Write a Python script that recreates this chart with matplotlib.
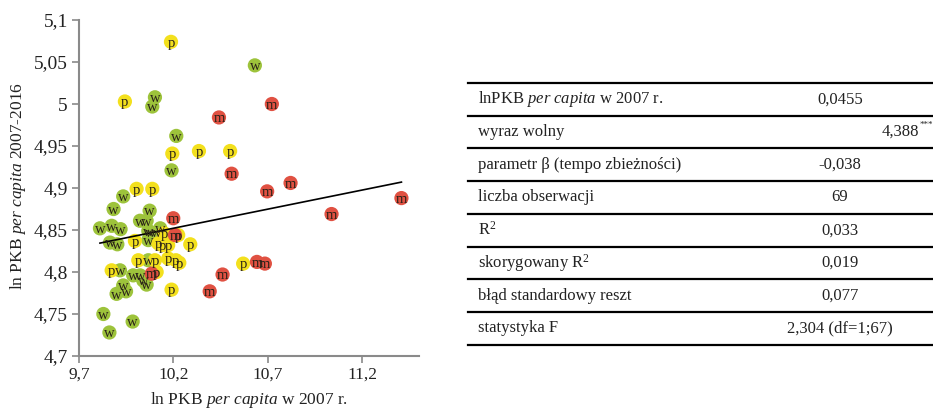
import matplotlib.pyplot as plt
import numpy as np

plt.rcParams['font.family'] = 'Liberation Serif'
plt.rcParams['mathtext.fontset'] = 'custom'
plt.rcParams['mathtext.rm'] = 'Liberation Serif'
plt.rcParams['mathtext.it'] = 'Liberation Serif:italic'

# ln GDP per capita 2007 (x) and growth 2007-2016 (y), by group
w_x = [10.102, 10.088, 10.631, 10.215, 10.190, 9.934, 9.883, 10.074, 10.023, 10.058,
       9.811, 9.873, 9.920, 10.067, 10.130, 10.076, 10.107, 9.864, 9.903, 10.067,
       9.917, 10.067, 9.987, 10.023, 10.040, 10.058, 9.934, 9.899, 9.949, 9.829,
       9.984, 9.861]
w_y = [5.008, 4.997, 5.046, 4.962, 4.921, 4.890, 4.875, 4.873, 4.861, 4.861,
       4.852, 4.855, 4.851, 4.849, 4.852, 4.847, 4.847, 4.835, 4.833, 4.838,
       4.802, 4.814, 4.796, 4.796, 4.790, 4.785, 4.784, 4.774, 4.777, 4.750,
       4.741, 4.728]

p_x = [10.187, 9.943, 10.194, 10.335, 10.500, 10.005, 10.088, 10.150, 10.225, 9.996,
       10.120, 10.142, 10.172, 10.289, 9.873, 10.014, 10.102, 10.172, 10.213, 10.231,
       10.111, 10.190, 10.569]
p_y = [5.074, 5.003, 4.941, 4.944, 4.944, 4.899, 4.899, 4.846, 4.844, 4.837,
       4.834, 4.832, 4.832, 4.833, 4.802, 4.814, 4.814, 4.816, 4.814, 4.811,
       4.800, 4.779, 4.810]

m_x = [10.441, 10.721, 10.508, 10.696, 10.820, 11.407, 11.037, 10.199, 10.208, 10.642,
       10.684, 10.460, 10.392, 10.085]
m_y = [4.984, 5.000, 4.917, 4.896, 4.906, 4.888, 4.869, 4.864, 4.844, 4.812,
       4.810, 4.797, 4.777, 4.798]

intercept = 4.388
slope = 0.0455

x_ticks = [9.7, 10.2, 10.7, 11.2]
y_ticks = [4.7, 4.75, 4.8, 4.85, 4.9, 4.95, 5.0, 5.05, 5.1]

table_labels = ["lnPKB $\\it{per\\ capita}$ w 2007 r.", "wyraz wolny",
                "parametr β (tempo zbieżności)", "liczba obserwacji", "R$^2$",
                "skorygowany R$^2$", "błąd standardowy reszt", "statystyka F"]
table_values = ["0,0455", "4,388", "-0,038", "69", "0,033", "0,019",
                "0,077", "2,304 (df=1;67)"]
signif = "***"

W, H = 933, 409
fig = plt.figure(figsize=(W / 100, H / 100), dpi=100)
ax = fig.add_axes([79 / W, 1 - 356 / H, 340 / W, 336 / H])

groups = [(w_x, w_y, '#9dc33b', 'w'), (p_x, p_y, '#f3e01d', 'p'), (m_x, m_y, '#e05142', 'm')]
for gx, gy, col, lab in groups:
    ax.scatter(gx, gy, s=105, color=col, edgecolors='none', zorder=3)
for gx, gy, col, lab in groups:
    for xx, yy in zip(gx, gy):
        ax.text(xx, yy - 0.0015, lab, ha='center', va='center', fontsize=10.5,
                color='#2a2218', zorder=5)

all_x = np.array(w_x + p_x + m_x)
lx = np.array([all_x.min(), all_x.max()])
ax.plot(lx, intercept + slope * lx, color='black', lw=1.2, zorder=4)

ax.set_xlim(9.7, 11.5)
ax.set_ylim(4.7, 5.1)
ax.set_xticks(x_ticks)
ax.set_xticklabels([f"{v:g}".replace('.', ',') for v in x_ticks])
ax.set_yticks(y_ticks)
ax.set_yticklabels([f"{v:g}".replace('.', ',') for v in y_ticks])
for s in ['top', 'right']:
    ax.spines[s].set_visible(False)
for s in ['left', 'bottom']:
    ax.spines[s].set_color('#8a8a8a')
    ax.spines[s].set_linewidth(1.5)
ax.tick_params(colors='#8a8a8a', labelcolor='#222222', length=5, width=1.2,
               direction='out', pad=3)
ax.tick_params(axis='x', labelsize=12.5)
ax.tick_params(axis='y', labelsize=14)
ax.patch.set_alpha(0)

fig.text(249 / W, 1 - 400 / H, "ln PKB $\\it{per\\ capita}$ w 2007 r.",
         ha='center', va='center', fontsize=12.5, color='#222222')
fig.text(18 / W, 1 - 186 / H, "ln PKB $\\it{per\\ capita}$ 2007-2016",
         ha='center', va='center', rotation=90, fontsize=12.5, color='#222222')

# regression table
tab = fig.add_axes([0, 0, 1, 1], zorder=-1)
tab.set_xlim(0, W)
tab.set_ylim(H, 0)
tab.axis('off')
row_h = 32.7
top = 83
for k in range(len(table_labels) + 1):
    yl = top + k * row_h
    tab.plot([468, W], [yl, yl], color='black', lw=1.6)
for k, (lab, val) in enumerate(zip(table_labels, table_values)):
    yc = top + (k + 0.5) * row_h
    tab.text(478, yc, lab, ha='left', va='center', fontsize=12, color='#222222')
    if k == 1:
        tab.text(919, yc, val, ha='right', va='center', fontsize=12, color='#222222')
        tab.text(920, yc - 11, signif, ha='left', va='top', fontsize=6.5,
                 color='#222222')
    else:
        tab.text(840, yc, val, ha='center', va='center', fontsize=12, color='#222222')

fig.savefig("out.png", dpi=100)
